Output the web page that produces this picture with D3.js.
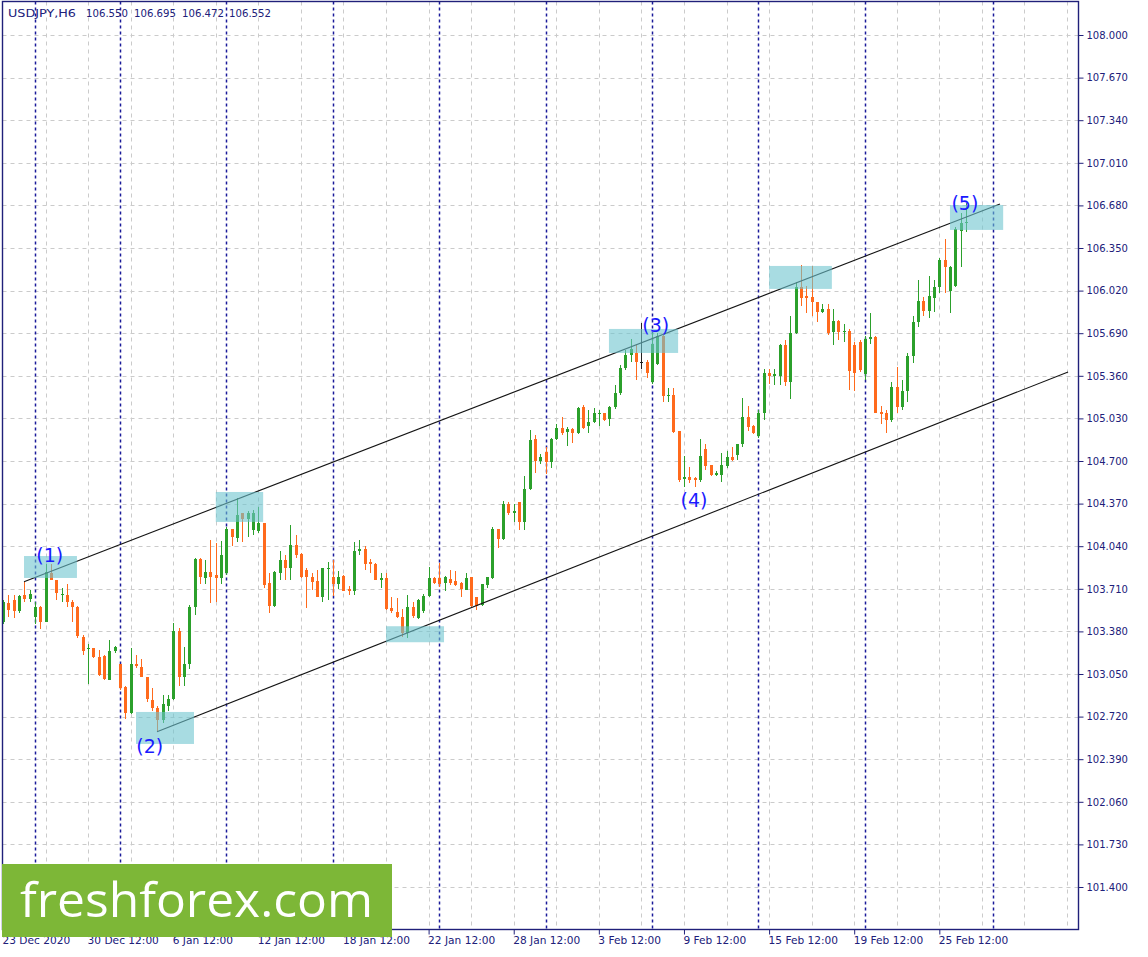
<!DOCTYPE html>
<html><head><meta charset="utf-8">
<script src="https://cdn.jsdelivr.net/npm/d3@7"></script>
<style>html,body{margin:0;padding:0;background:#fff;} svg{display:block;}</style>
</head><body><svg id="c" width="1148" height="957"></svg>
<script>
// ---------- DATA (USDJPY, H6) ----------
const symbol = "USDJPY,H6";
const lastOHLC = ["106.550", "106.695", "106.472", "106.552"];

const openP = [103.455,103.60,103.62,103.535,103.66,103.63,103.49,103.57,103.455,103.83,
103.78,103.665,103.665,103.61,103.57,103.34,103.245,103.25,103.185,103.19,
103.00,103.225,103.125,102.95,102.745,103.13,103.107,103.03,102.845,102.785,
102.695,102.80,102.86,103.38,103.03,103.13,103.567,103.94,103.795,103.84,
103.815,103.795,103.835,104.17,104.10,104.295,104.25,104.165,104.16,104.22,
103.755,103.575,103.835,103.93,103.875,104.05,103.98,103.855,103.80,103.77,
103.65,103.86,103.805,103.75,103.81,103.71,103.69,104.0,104.015,103.92,
103.905,103.78,103.79,103.56,103.53,103.49,103.365,103.57,103.485,103.535,
103.655,103.79,103.79,103.755,103.785,103.77,103.755,103.70,103.80,103.65,
103.585,103.74,103.79,104.17,104.095,104.37,104.30,104.38,104.23,104.48,
104.87,104.70,104.77,104.69,104.87,104.955,104.925,104.945,104.92,105.115,
104.975,105.00,105.065,105.07,105.025,105.115,105.23,105.42,105.52,105.535,
105.47,105.47,105.31,105.455,105.665,105.20,105.21,104.935,104.56,104.575,
104.565,104.555,104.79,104.67,104.59,104.59,104.66,104.73,104.75,104.83,
105.04,104.97,104.89,105.07,105.38,105.355,105.355,105.595,105.315,105.695,
106.045,105.975,105.97,105.935,105.855,105.88,105.70,105.785,105.70,105.71,
105.60,105.625,105.375,105.645,105.66,105.08,105.07,105.02,105.27,105.115,
105.245,105.515,105.78,105.94,105.865,105.96,106.045,106.257,106.02,106.055,
106.485,106.550];

const highP = [103.62,103.66,103.66,103.66,103.765,103.70,103.61,103.575,103.905,103.905,
103.78,103.72,103.75,103.625,103.58,103.35,103.28,103.255,103.235,103.20,
103.31,103.27,103.13,102.955,103.25,103.20,103.17,103.03,102.94,102.80,
102.89,102.89,103.445,103.41,103.26,103.585,103.95,103.95,103.93,104.09,
104.065,104.08,104.19,104.17,104.41,104.30,104.315,104.32,104.34,104.22,
103.83,103.85,104.0,103.97,104.205,104.13,103.99,103.87,103.83,103.855,
103.87,103.92,103.93,103.85,103.815,103.73,104.075,104.09,104.04,103.94,
103.91,103.83,103.83,103.65,103.64,103.55,103.66,103.61,103.63,103.67,
103.88,103.80,103.91,103.81,103.855,103.85,103.76,103.83,103.805,103.65,
103.75,103.805,104.19,104.175,104.39,104.385,104.37,104.385,104.58,104.94,
104.90,104.755,104.81,104.875,104.99,105.04,104.96,104.955,105.115,105.13,
105.095,105.11,105.095,105.075,105.125,105.29,105.445,105.56,105.645,105.61,
105.77,105.48,105.69,105.69,105.69,105.265,105.265,104.935,104.735,104.655,
104.575,104.87,104.835,104.67,104.625,104.76,104.78,104.81,104.835,105.19,
105.125,104.98,105.095,105.41,105.41,105.415,105.61,105.64,105.82,106.09,
106.215,106.055,106.21,105.935,105.915,105.92,105.875,105.79,105.765,105.72,
105.625,105.64,105.665,105.845,105.665,105.125,105.095,105.315,105.425,105.33,
105.535,105.82,106.105,105.97,106.13,106.10,106.27,106.42,106.21,106.515,
106.62,106.695];

const lowP = [103.44,103.49,103.48,103.525,103.61,103.61,103.44,103.40,103.45,103.78,
103.62,103.61,103.57,103.455,103.33,103.20,102.97,103.175,103.035,103.00,
103.00,103.21,102.925,102.705,102.74,103.10,103.03,102.83,102.76,102.605,
102.67,102.76,102.85,102.955,102.955,103.085,103.51,103.75,103.75,103.60,
103.61,103.75,103.82,104.04,104.075,104.07,104.11,104.13,104.14,103.715,
103.52,103.57,103.78,103.78,103.775,103.945,103.79,103.56,103.70,103.645,
103.61,103.625,103.655,103.71,103.69,103.66,103.66,103.975,103.855,103.83,
103.775,103.715,103.545,103.52,103.485,103.34,103.33,103.48,103.475,103.525,
103.65,103.75,103.725,103.695,103.74,103.735,103.645,103.70,103.57,103.545,
103.58,103.72,103.785,104.025,104.09,104.28,104.23,104.165,104.165,104.475,
104.61,104.68,104.60,104.645,104.86,104.90,104.82,104.84,104.91,104.95,
104.92,104.995,104.97,105.01,104.97,105.10,105.21,105.405,105.47,105.33,
105.41,105.34,105.30,105.44,105.16,105.16,104.915,104.54,104.50,104.53,
104.50,104.54,104.63,104.58,104.58,104.54,104.645,104.70,104.71,104.81,
104.93,104.91,104.875,105.02,105.30,105.29,105.29,105.28,105.18,105.685,
105.90,105.845,105.82,105.78,105.845,105.675,105.60,105.64,105.625,105.25,
105.24,105.39,105.33,105.61,105.07,104.99,104.92,105.005,105.07,105.095,
105.16,105.46,105.74,105.82,105.805,105.855,106.0,106.0,105.845,106.05,
106.20,106.472];

const closeP = [103.61,103.545,103.535,103.655,103.63,103.668,103.57,103.455,103.84,103.78,
103.675,103.67,103.61,103.567,103.345,103.225,103.255,103.18,103.04,103.01,
103.225,103.26,102.94,102.745,103.13,103.115,103.03,102.86,102.785,102.695,
102.82,102.86,103.38,103.03,103.13,103.567,103.94,103.80,103.84,103.805,
103.79,103.97,104.17,104.11,104.28,104.25,104.295,104.295,104.22,103.74,
103.575,103.84,103.93,103.875,104.05,103.97,103.80,103.80,103.765,103.65,
103.87,103.875,103.75,103.805,103.695,103.69,104.005,104.015,103.905,103.90,
103.78,103.79,103.55,103.54,103.49,103.365,103.57,103.50,103.625,103.655,
103.79,103.755,103.75,103.805,103.755,103.74,103.71,103.79,103.575,103.575,
103.745,103.80,104.17,104.095,104.37,104.30,104.31,104.23,104.48,104.865,
104.70,104.73,104.69,104.87,104.955,104.92,104.945,104.92,105.11,104.955,
105.00,105.07,105.075,105.02,105.12,105.23,105.42,105.52,105.565,105.47,
105.47,105.38,105.61,105.665,105.20,105.21,104.925,104.555,104.575,104.555,
104.555,104.735,104.66,104.59,104.61,104.67,104.73,104.71,104.83,105.04,
104.96,104.915,105.07,105.385,105.355,105.375,105.595,105.315,105.695,106.045,
105.96,105.96,105.935,105.855,105.88,105.69,105.785,105.70,105.71,105.40,
105.385,105.405,105.645,105.66,105.075,105.065,105.02,105.27,105.115,105.245,
105.515,105.78,105.94,105.865,105.975,106.045,106.257,106.20,106.20,106.495,
106.545,106.552];

const priceTicks = d3.range(21).map(k => +(101.4 + 0.33 * k).toFixed(3));
const dateTickIdx = [0, 16, 32, 48, 64, 80, 96, 112, 128, 144, 160, 176];
const dateTickLabels = ["23 Dec 2020", "30 Dec 12:00", "6 Jan 12:00", "12 Jan 12:00", "18 Jan 12:00",
  "22 Jan 12:00", "28 Jan 12:00", "3 Feb 12:00", "9 Feb 12:00", "15 Feb 12:00", "19 Feb 12:00", "25 Feb 12:00"];
const separatorIdx = [6, 22, 42, 62, 82, 102, 122, 142, 162, 186];
const gridIdx = d3.range(8, 201, 8);

// channel lines [barIndex, price]
const channelUpper = [[3.95, 103.765], [187.4, 106.691]];
const channelLower = [[28.95, 102.603], [200.2, 105.39]];
// highlight zones [i0, i1, priceHigh, priceLow]
const zones = [
  [3.95, 13.9, 103.964, 103.794],
  [25.0, 35.9, 102.756, 102.508],
  [40.0, 48.9, 104.460, 104.228],
  [72.0, 82.9, 103.420, 103.296],
  [113.9, 126.9, 105.723, 105.537],
  [144.0, 155.8, 106.211, 106.033],
  [178.0, 188.0, 106.683, 106.490]
];
const waveNames = ["(1)", "(2)", "(3)", "(4)", "(5)"];
const waveIdx = [8.8, 27.6, 122.7, 129.9, 180.8];
const wavePrice = [103.972, 102.493, 105.754, 104.398, 106.70];
const brand = "freshforex.com";

// ---------- DRAW ----------
const svg = d3.select("#c");
const NAVY = "#20207a";
const UP = "#2ba02b", DOWN = "#ff6a1c";
const x = d3.scaleLinear().domain([0, 200]).range([3, 3 + 5.32 * 200]);
const y = d3.scaleLinear().domain([101.4, 108]).range([887, 35]);
const L = 2.5, T = 1.5, R = 1078.5, B = 929.5;

svg.append("clipPath").attr("id", "plot").append("rect")
  .attr("x", L).attr("y", T).attr("width", R - L).attr("height", B - T);
const plot = svg.append("g").attr("clip-path", "url(#plot)");

// gray grid
plot.append("g").selectAll("line").data(priceTicks).join("line")
  .attr("x1", L).attr("x2", R).attr("y1", d => Math.round(y(d)) + 0.5).attr("y2", d => Math.round(y(d)) + 0.5)
  .attr("stroke", "#cbcbcb").attr("stroke-dasharray", "4,4");
plot.append("g").selectAll("line").data(gridIdx).join("line")
  .attr("x1", d => Math.round(x(d)) + 0.5).attr("x2", d => Math.round(x(d)) + 0.5).attr("y1", T).attr("y2", B)
  .attr("stroke", "#cbcbcb").attr("stroke-dasharray", "4,4");
// period separators
plot.append("g").selectAll("line").data(separatorIdx).join("line")
  .attr("x1", d => Math.round(x(d)) + 0.5).attr("x2", d => Math.round(x(d)) + 0.5).attr("y1", T).attr("y2", B)
  .attr("stroke", "#1a1a9a").attr("stroke-width", 1.5).attr("stroke-dasharray", "3,3");

// candles
const bars = d3.range(openP.length);
const col = i => closeP[i] > openP[i] ? UP : (closeP[i] < openP[i] ? DOWN : "#222");
const cg = plot.append("g").attr("shape-rendering", "crispEdges");
cg.selectAll("line").data(bars).join("line")
  .attr("x1", i => Math.round(x(i)) + 0.5).attr("x2", i => Math.round(x(i)) + 0.5)
  .attr("y1", i => y(highP[i])).attr("y2", i => y(lowP[i]))
  .attr("stroke", col);
cg.selectAll("rect").data(bars).join("rect")
  .attr("x", i => Math.round(x(i)) - 1).attr("width", 3)
  .attr("y", i => y(Math.max(openP[i], closeP[i])))
  .attr("height", i => Math.max(1, Math.abs(y(openP[i]) - y(closeP[i]))))
  .attr("fill", col);

// channel
const ln = d3.line().x(d => x(d[0])).y(d => y(d[1]));
[channelUpper, channelLower].forEach(c => plot.append("path").attr("d", ln(c))
  .attr("fill", "none").attr("stroke", "#141414").attr("stroke-width", 1.1));

// zones
plot.append("g").selectAll("rect").data(zones).join("rect")
  .attr("x", d => x(d[0])).attr("width", d => x(d[1]) - x(d[0]))
  .attr("y", d => y(d[2])).attr("height", d => y(d[3]) - y(d[2]))
  .attr("fill", "#6ec5cf").attr("fill-opacity", 0.6);

// wave labels
plot.append("g").selectAll("text").data(waveNames).join("text")
  .attr("x", (d, k) => x(waveIdx[k])).attr("y", (d, k) => y(wavePrice[k]) + 7)
  .attr("text-anchor", "middle").attr("font-family", "DejaVu Sans").attr("font-size", 19)
  .attr("fill", "#1a1aff").text(d => d);

// header
const hx = [8, 86, 134, 182, 229];
const hw = [68, 42, 42, 42, 42];
svg.append("g").selectAll("text").data([symbol, ...lastOHLC]).join("text")
  .attr("x", (d, k) => hx[k]).attr("y", 17).attr("font-family", "DejaVu Sans")
  .attr("font-size", 10.5).attr("textLength", (d, k) => hw[k]).attr("lengthAdjust", "spacingAndGlyphs")
  .attr("fill", NAVY).text(d => d);

// right axis
const ay = svg.append("g").attr("transform", `translate(${R},0)`)
  .call(d3.axisRight(y).tickValues(priceTicks).tickFormat(d3.format(".3f")).tickSize(5).tickPadding(3));
ay.select(".domain").remove();
ay.selectAll("line").attr("stroke", NAVY);
ay.selectAll("text").attr("font-family", "DejaVu Sans").attr("font-size", 10).attr("fill", NAVY);

// bottom axis
const ax = svg.append("g").attr("transform", `translate(0,${B})`)
  .call(d3.axisBottom(x).tickValues(dateTickIdx).tickFormat((d, k) => dateTickLabels[k]).tickSize(5).tickPadding(2));
ax.select(".domain").remove();
ax.selectAll("line").attr("stroke", NAVY);
ax.selectAll("text").attr("text-anchor", "start").attr("x", -1)
  .attr("font-family", "DejaVu Sans").attr("font-size", 10.6).attr("fill", NAVY);

// frame
svg.append("rect").attr("x", L).attr("y", T).attr("width", R - L).attr("height", B - T)
  .attr("fill", "none").attr("stroke", NAVY).attr("stroke-width", 1.4);

// brand logo
svg.append("rect").attr("x", 2).attr("y", 864).attr("width", 390).attr("height", 73).attr("fill", "#7db737");
svg.append("text").attr("x", 20).attr("y", 917).attr("font-family", "Open Sans").attr("font-size", 47)
  .attr("textLength", 353).attr("lengthAdjust", "spacingAndGlyphs").attr("fill", "#fff").text(brand);
</script></body></html>
